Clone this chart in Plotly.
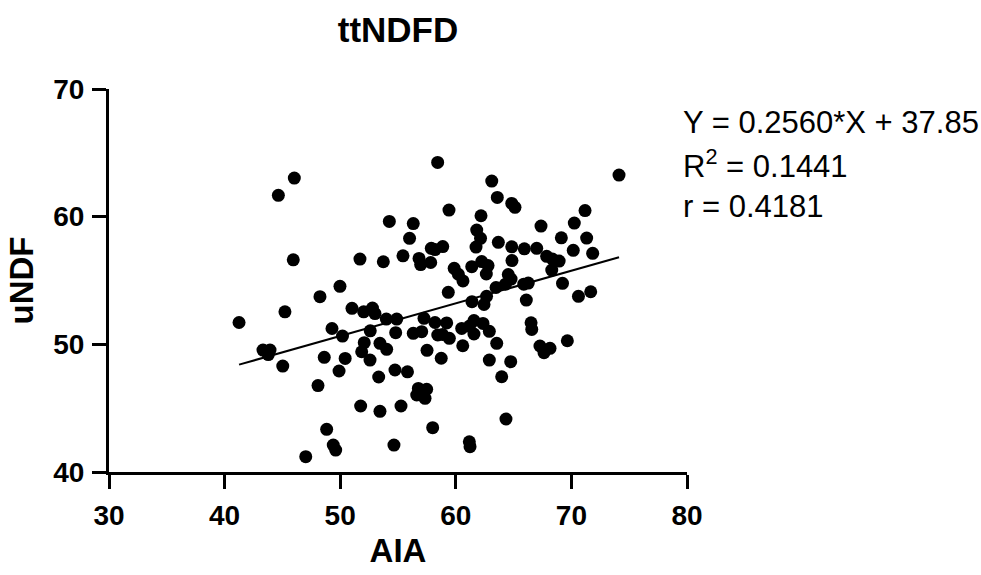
import plotly.graph_objects as go

# AIA (x) values
aia = [46.03, 44.65, 54.25, 56.32, 56.00, 45.94, 51.71, 53.73, 55.43, 56.82,
       56.96, 49.98, 48.25, 45.22, 41.25, 51.02, 52.03, 52.79, 53.01, 53.99,
       54.89, 49.29, 50.20, 52.60, 54.80, 43.32, 43.93, 43.78, 45.03, 48.62,
       50.43, 52.08, 51.86, 52.58, 53.44, 54.02, 49.90, 54.74, 55.82, 53.33,
       48.08, 56.76, 57.48, 56.62, 57.34, 51.77, 53.44, 55.26, 48.83, 49.40,
       49.61, 54.65, 47.02, 58.00, 64.34, 61.17, 61.23, 58.43, 74.12, 63.11,
       63.59, 64.84, 65.12, 59.41, 62.18, 71.18, 67.37, 70.25, 61.81, 62.14,
       63.68, 69.13, 71.32, 61.75, 64.84, 65.93, 67.00, 57.88, 58.87, 58.20,
       57.83, 70.16, 71.84, 67.86, 68.36, 68.94, 68.30, 64.86, 62.24, 62.79,
       61.38, 59.86, 60.22, 60.62, 62.64, 64.54, 64.78, 65.88, 66.27, 64.30,
       63.48, 69.23, 59.35, 62.66, 62.44, 61.40, 66.10, 70.61, 71.67, 57.25,
       58.20, 59.21, 56.32, 57.05, 58.44, 58.85, 59.44, 60.51, 61.19, 61.57,
       62.35, 61.57, 62.90, 66.51, 66.57, 57.51, 58.74, 60.60, 63.54, 67.28,
       67.63, 68.15, 69.65, 62.90, 64.75, 63.97]

# uNDF (y) values
undf = [63.02, 61.67, 59.63, 59.46, 58.30, 56.62, 56.68, 56.47, 56.93, 56.73,
        56.25, 54.54, 53.73, 52.55, 51.71, 52.82, 52.55, 52.84, 52.41, 51.98,
        51.98, 51.24, 50.65, 51.06, 50.91, 49.55, 49.55, 49.20, 48.30, 48.98,
        48.90, 50.13, 49.42, 48.77, 50.08, 49.61, 47.91, 47.99, 47.85, 47.44,
        46.77, 46.55, 46.48, 46.03, 45.77, 45.17, 44.75, 45.17, 43.34, 42.11,
        41.72, 42.11, 41.20, 43.47, 44.15, 42.37, 41.98, 64.25, 63.26, 62.79,
        61.51, 61.04, 60.73, 60.52, 60.07, 60.48, 59.26, 59.50, 58.95, 58.30,
        57.99, 58.34, 58.32, 57.62, 57.64, 57.48, 57.52, 57.52, 57.66, 57.42,
        56.41, 57.36, 57.13, 56.89, 56.68, 56.52, 55.82, 56.56, 56.48, 56.17,
        56.08, 55.95, 55.49, 54.97, 55.51, 55.47, 55.11, 54.71, 54.80, 54.71,
        54.45, 54.78, 54.07, 53.76, 53.12, 53.34, 53.47, 53.76, 54.12, 52.04,
        51.71, 51.68, 50.86, 50.99, 50.73, 50.77, 50.47, 51.25, 51.43, 51.86,
        51.64, 50.81, 51.02, 51.69, 51.17, 49.53, 48.91, 49.89, 50.08, 49.87,
        49.34, 49.69, 50.28, 48.77, 48.64, 47.46]

slope = 0.2560
intercept = 37.85
r_squared = 0.1441
r_value = 0.4181

x_ticks = [30, 40, 50, 60, 70, 80]
y_ticks = [40, 50, 60, 70]

x_line = [min(aia), max(aia)]
y_line = [slope * v + intercept for v in x_line]

BOLD_FONT = "Liberation Sans, Arial, sans-serif"
REG_FONT = "Liberation Sans, Arial, Helvetica, sans-serif"

fig = go.Figure()
fig.add_trace(go.Scatter(x=aia, y=undf, mode="markers",
                         marker=dict(color="black", size=13, line=dict(width=0)),
                         showlegend=False, cliponaxis=False))
fig.add_trace(go.Scatter(x=x_line, y=y_line, mode="lines",
                         line=dict(color="black", width=2), showlegend=False))

axis_common = dict(showgrid=False, zeroline=False, showline=True, linecolor="black",
                   linewidth=3, ticks="outside", ticklen=14, tickwidth=3, tickcolor="black",
                   ticklabelstandoff=2,
                   tickfont=dict(family=BOLD_FONT, size=28, color="black", weight="bold"))

fig.update_layout(
    width=981, height=575,
    margin=dict(l=109, r=294, t=89, b=103),
    paper_bgcolor="white", plot_bgcolor="white",
    title=dict(text="ttNDFD", x=(109 + 687) / 2 / 981, xanchor="center",
               y=1 - 30 / 575, yanchor="middle",
               font=dict(family=BOLD_FONT, size=35, color="black", weight="bold")),
    xaxis=dict(range=[30, 80], tickvals=x_ticks, **axis_common,
               title=dict(text="AIA", standoff=10,
                          font=dict(family=BOLD_FONT, size=33, color="black", weight="bold"))),
    yaxis=dict(range=[40, 70], tickvals=y_ticks, **axis_common,
               title=dict(text="uNDF", standoff=10,
                          font=dict(family=BOLD_FONT, size=33, color="black", weight="bold"))),
)

stats = [f"Y = {slope:.4f}*X + {intercept:.2f}",
         f"R<sup>2</sup> = {r_squared:.4f}",
         f"r = {r_value:.4f}"]
for i, txt in enumerate(stats):
    fig.add_annotation(text=txt, xref="paper", yref="paper",
                       x=(681 - 109) / 578, y=(472 - (122 + 42 * i)) / 383,
                       xanchor="left", yanchor="middle", showarrow=False,
                       font=dict(family=REG_FONT, size=31, color="black"))

fig.write_html("out.html")
